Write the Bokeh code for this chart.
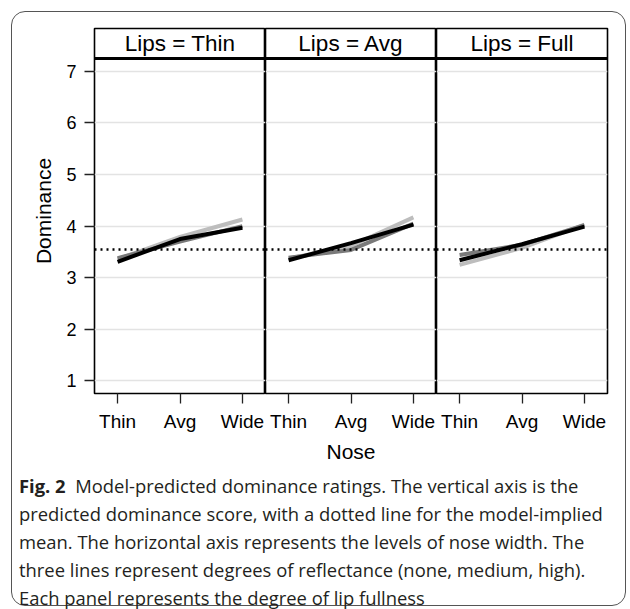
from bokeh.plotting import figure
from bokeh.models import Range1d, FixedTicker, Span, Label, Div
from bokeh.layouts import row, column
from bokeh.embed import file_html
from bokeh.resources import INLINE

# ---- data ----
nose = ["Thin", "Avg", "Wide"]
lips = ["Thin", "Avg", "Full"]
y_ticks = [1, 2, 3, 4, 5, 6, 7]
mean_dominance = 3.55
# one list per lips panel, values at nose Thin / Avg / Wide
refl_light = [[3.36, 3.79, 4.13], [3.37, 3.62, 4.17], [3.25, 3.58, 4.03]]
refl_dark = [[3.38, 3.70, 4.00], [3.39, 3.54, 4.05], [3.44, 3.64, 4.02]]
refl_black = [[3.31, 3.75, 3.97], [3.34, 3.67, 4.03], [3.34, 3.65, 3.99]]

series = [(refl_light, "#bdbdbd"), (refl_dark, "#7a7a7a"), (refl_black, "#000000")]

FONT = "Liberation Sans"
xs = list(range(1, len(nose) + 1))
x_lo, x_hi = 0.63, len(nose) + 0.37
y_lo, y_top = 0.756, 7.252
strip_h = 0.58
y_hi = y_top + strip_h

figs = []
for i, lip in enumerate(lips):
    first = i == 0
    last = i == len(lips) - 1
    w = 171 + (82 if first else 0) + (19 if last else 0)
    p = figure(width=w, height=460,
               x_range=Range1d(x_lo, x_hi), y_range=Range1d(y_lo, y_hi),
               y_axis_location="left" if first else None,
               output_backend="svg", toolbar_location=None,
               min_border_left=82 if first else 0,
               min_border_right=19 if last else 0,
               min_border_top=16, min_border_bottom=79)
    p.background_fill_color = "white"
    p.border_fill_color = None
    p.outline_line_color = "black"
    p.outline_line_width = 1.6
    p.xgrid.visible = False
    p.ygrid.ticker = FixedTicker(ticks=y_ticks)
    p.ygrid.grid_line_color = "#e3e3e3"
    p.ygrid.grid_line_width = 1.5

    # x axis
    ax = p.xaxis[0]
    ax.ticker = FixedTicker(ticks=xs)
    ax.major_label_overrides = {x: n for x, n in zip(xs, nose)}
    ax.axis_line_color = None
    ax.major_tick_line_color = "#222222"
    ax.major_tick_line_width = 1.3
    ax.major_tick_out = 10
    ax.major_tick_in = 0
    ax.minor_tick_line_color = None
    ax.major_label_text_font = FONT
    ax.major_label_text_font_size = "19px"
    ax.major_label_text_color = "black"
    ax.major_label_standoff = 7
    if i == 1:
        ax.axis_label = "Nose"
        ax.axis_label_text_font = FONT
        ax.axis_label_text_font_size = "21px"
        ax.axis_label_text_font_style = "normal"
        ax.axis_label_text_color = "black"
        ax.axis_label_standoff = 5

    if first:
        ay = p.yaxis[0]
        ay.ticker = FixedTicker(ticks=y_ticks)
        ay.axis_line_color = None
        ay.major_tick_line_color = "#222222"
        ay.major_tick_line_width = 1.3
        ay.major_tick_out = 10
        ay.major_tick_in = 0
        ay.minor_tick_line_color = None
        ay.major_label_text_font = FONT
        ay.major_label_text_font_size = "18px"
        ay.major_label_text_color = "black"
        ay.major_label_standoff = 8
        ay.axis_label = "Dominance"
        ay.axis_label_text_font = FONT
        ay.axis_label_text_font_size = "21px"
        ay.axis_label_text_font_style = "normal"
        ay.axis_label_text_color = "black"
        ay.axis_label_standoff = 8

    # mean line
    p.add_layout(Span(location=mean_dominance, dimension="width", line_color="black",
                      line_width=2.5, line_dash="2 4"))
    # lines
    for vals, col in series:
        p.line(xs, vals[i], line_color=col, line_width=4)

    # strip
    p.add_layout(Span(location=y_top, dimension="width", line_color="black", line_width=3))
    p.add_layout(Label(x=(x_lo + x_hi) / 2, y=y_top + strip_h / 2, text=f"Lips = {lip}",
                       text_align="center", text_baseline="middle",
                       text_font=FONT, text_font_size="22.5px", text_color="black"))
    figs.append(p)

caption_html = (
    "<div style=\"font-family:'Open Sans';font-size:18.4px;line-height:28px;color:#231f20;"
    "padding-left:7px;white-space:nowrap;\">"
    "<b>Fig. 2</b>&nbsp; Model-predicted dominance ratings. The vertical axis is the<br>"
    "predicted dominance score, with a dotted line for the model-implied<br>"
    "mean. The horizontal axis represents the levels of nose width. The<br>"
    "three lines represent degrees of reflectance (none, medium, high).<br>"
    "Each panel represents the degree of lip fullness</div>"
)
cap = Div(text=caption_html, width=613, height=132, margin=(0, 0, 0, 0),
          styles={"overflow": "visible"})

layout = column(row(*figs), cap,
                styles={"border": "1.3px solid #555555", "border-radius": "14px",
                        "position": "relative", "top": "11px", "left": "11px",
                        "box-sizing": "border-box", "width": "615px", "height": "595px"})

open("out.html", "w").write(file_html(layout, INLINE))
